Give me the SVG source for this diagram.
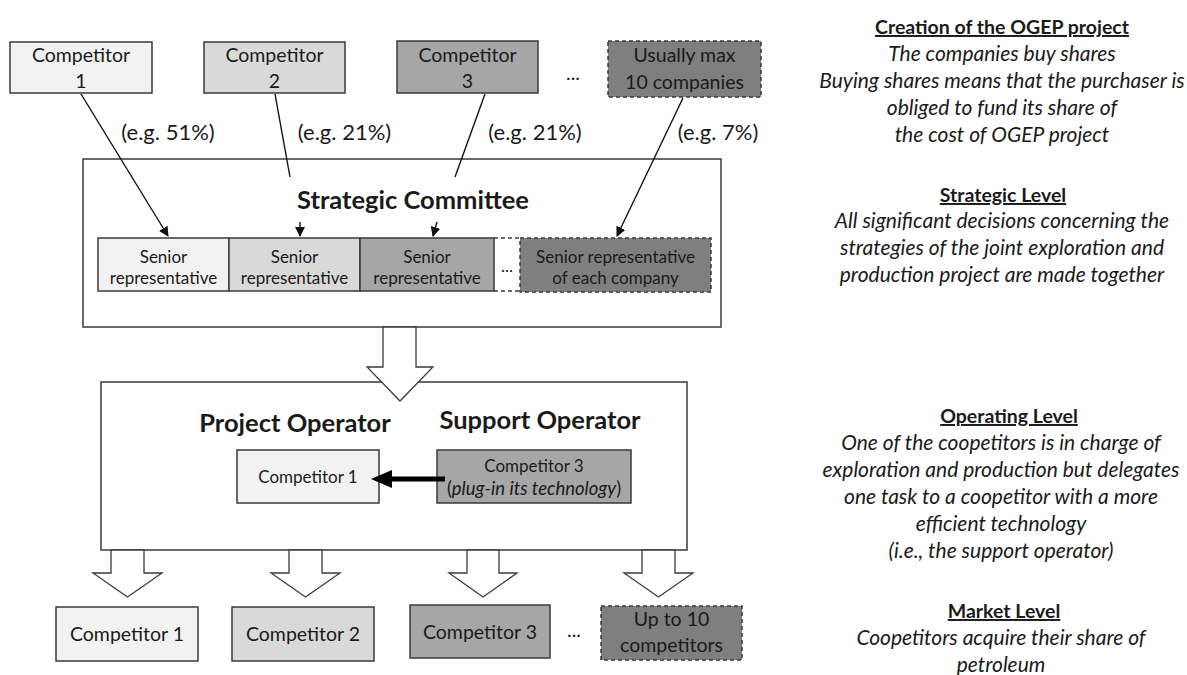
<svg xmlns="http://www.w3.org/2000/svg" width="1187" height="675" viewBox="0 0 1187 675">
<style>
.box{stroke:#3a3a3a;stroke-width:1.5}
.dash{stroke:#3a3a3a;stroke-width:1.5;stroke-dasharray:4 3}
.c1{fill:#f2f2f2}.c2{fill:#d9d9d9}.c3{fill:#a6a6a6}.c4{fill:#7f7f7f}
.frame{fill:#fff;stroke:#3a3a3a;stroke-width:1.5}
.t{font-family:Lato,"Liberation Sans",sans-serif;fill:#1a1a1a;text-anchor:middle}
.big{font-size:19.5px}
.pc{font-size:22px}
.sm{font-size:17px}
.op{font-size:17px}
.pl{font-size:18.5px}
.hd{font-size:25.5px;font-weight:bold}
.rh{font-size:19.5px;font-weight:bold;text-decoration:underline}
.ri{font-size:21px;font-style:italic}
.ln{stroke:#111;stroke-width:1.4;fill:none}
.blk{fill:#fff;stroke:#3a3a3a;stroke-width:1.3}
</style>
<defs>
<marker id="ah" markerWidth="10" markerHeight="10" refX="9" refY="5" orient="auto" markerUnits="userSpaceOnUse">
<path d="M0,0 L10,5 L0,10 z" fill="#111"/>
</marker>
</defs>
<rect width="1187" height="675" fill="#fff"/>

<g id="strategic-committee">
<rect x="83" y="159" width="638" height="168" class="frame"/>
<text x="413" y="209" class="t hd">Strategic Committee</text>
</g>

<g id="operating-box">
<rect x="101" y="382" width="586" height="168" class="frame"/>
<text x="295" y="432" class="t hd">Project Operator</text>
<text x="540" y="429" class="t hd">Support Operator</text>
</g>

<g id="comp1-top">
<rect x="10" y="42" width="142" height="51" class="box c1"/>
<text x="81" y="62" class="t big">Competitor</text>
<text x="81" y="88" class="t big">1</text>
</g>
<g id="comp2-top">
<rect x="204" y="42" width="141" height="51" class="box c2"/>
<text x="274.5" y="62" class="t big">Competitor</text>
<text x="274.5" y="88" class="t big">2</text>
</g>
<g id="comp3-top">
<rect x="397" y="41" width="141" height="52" class="box c3"/>
<text x="467.5" y="62" class="t big">Competitor</text>
<text x="467.5" y="88" class="t big">3</text>
</g>
<text x="573" y="80" class="t big">...</text>
<g id="max-top">
<rect x="608" y="41" width="153" height="56" class="dash c4"/>
<text x="684.5" y="62" class="t big">Usually max</text>
<text x="684.5" y="89" class="t big">10 companies</text>
</g>

<g id="labels">
<text x="168" y="140" class="t pc">(e.g. 51%)</text>
<text x="344.5" y="140" class="t pc">(e.g. 21%)</text>
<text x="535" y="140" class="t pc">(e.g. 21%)</text>
<text x="718" y="140" class="t pc">(e.g. 7%)</text>
</g>

<g id="senior1">
<rect x="98" y="238" width="131" height="53" class="box c1"/>
<text x="163.5" y="263" class="t sm">Senior</text>
<text x="163.5" y="284" class="t sm">representative</text>
</g>
<g id="senior2">
<rect x="229" y="238" width="131" height="53" class="box c2"/>
<text x="294.5" y="263" class="t sm">Senior</text>
<text x="294.5" y="284" class="t sm">representative</text>
</g>
<g id="senior3">
<rect x="360" y="238" width="134" height="53" class="box c3"/>
<text x="427" y="263" class="t sm">Senior</text>
<text x="427" y="284" class="t sm">representative</text>
</g>
<g id="senior-gap">
<line x1="494" y1="238" x2="520" y2="238" class="dash"/>
<line x1="494" y1="291" x2="520" y2="291" class="dash"/>
<text x="507" y="272" class="t sm">...</text>
</g>
<g id="senior-each">
<rect x="520" y="238" width="191" height="54" class="dash c4"/>
<text x="615.5" y="263" class="t sm">Senior representative</text>
<text x="615.5" y="284" class="t sm">of each company</text>
</g>

<g id="op-comp1">
<rect x="237" y="450" width="142" height="53" class="box c1"/>
<text x="308" y="483" class="t op">Competitor 1</text>
</g>
<g id="op-comp3">
<rect x="437" y="450" width="194" height="53" class="box c3"/>
<text x="534" y="472" class="t op">Competitor 3</text>
<text x="534" y="495" class="t pl">(<tspan font-style="italic">plug-in its technology</tspan>)</text>
</g>

<g id="comp1-bottom">
<rect x="56" y="607" width="142" height="54" class="box c1"/>
<text x="127" y="641" class="t big">Competitor 1</text>
</g>
<g id="comp2-bottom">
<rect x="232" y="607" width="142" height="54" class="box c2"/>
<text x="303" y="641" class="t big">Competitor 2</text>
</g>
<g id="comp3-bottom">
<rect x="410" y="605" width="140" height="53" class="box c3"/>
<text x="480" y="639" class="t big">Competitor 3</text>
</g>
<text x="574" y="637" class="t big">...</text>
<g id="upto-bottom">
<rect x="601" y="606" width="141" height="54" class="dash c4"/>
<text x="671.5" y="626" class="t big">Up to 10</text>
<text x="671.5" y="652" class="t big">competitors</text>
</g>

<g id="connectors">
<line x1="81" y1="94" x2="168" y2="236" class="ln" marker-end="url(#ah)"/>
<line x1="275" y1="94" x2="290" y2="177" class="ln"/>
<line x1="300" y1="222" x2="300" y2="236" class="ln" marker-end="url(#ah)"/>
<line x1="485" y1="94" x2="455" y2="177" class="ln"/>
<line x1="437" y1="222" x2="433" y2="236" class="ln" marker-end="url(#ah)"/>
<line x1="683" y1="98" x2="617" y2="236" class="ln" marker-end="url(#ah)"/>
<polygon points="383,327 416,327 416,367 433,367 400,401 367,367 383,367" class="blk"/>
<line x1="445" y1="479" x2="388" y2="479" stroke="#000" stroke-width="5"/>
<polygon points="371,479 392,470 392,488" fill="#000"/>
<polygon points="111,550 144,550 144,573 162,573 127.5,597 93,573 111,573" class="blk"/>
<polygon points="289,550 322,550 322,573 340,573 305.5,597 271,573 289,573" class="blk"/>
<polygon points="467,550 499,550 499,573 517,573 483,597 449,573 467,573" class="blk"/>
<polygon points="642,550 675,550 675,573 693,573 658.5,597 624,573 642,573" class="blk"/>
</g>

<g id="notes">
<text x="1002" y="34" class="t rh">Creation of the OGEP project</text>
<text x="1002" y="61" class="t ri">The companies buy shares</text>
<text x="1002" y="88" class="t ri">Buying shares means that the purchaser is</text>
<text x="1002" y="115" class="t ri">obliged to fund its share of</text>
<text x="1002" y="142" class="t ri">the cost of OGEP project</text>
<text x="1003" y="202" class="t rh">Strategic Level</text>
<text x="1002" y="228" class="t ri">All significant decisions concerning the</text>
<text x="1002" y="255" class="t ri">strategies of the joint exploration and</text>
<text x="1002" y="282" class="t ri">production project are made together</text>
<text x="1009" y="423" class="t rh">Operating Level</text>
<text x="1001" y="450" class="t ri">One of the coopetitors is in charge of</text>
<text x="1001" y="477" class="t ri">exploration and production but delegates</text>
<text x="1001" y="504" class="t ri">one task to a coopetitor with a more</text>
<text x="1001" y="531" class="t ri">efficient technology</text>
<text x="1001" y="558" class="t ri">(i.e., the support operator)</text>
<text x="1004" y="618" class="t rh">Market Level</text>
<text x="1001" y="645" class="t ri">Coopetitors acquire their share of</text>
<text x="1001" y="672" class="t ri">petroleum</text>
</g>
</svg>
